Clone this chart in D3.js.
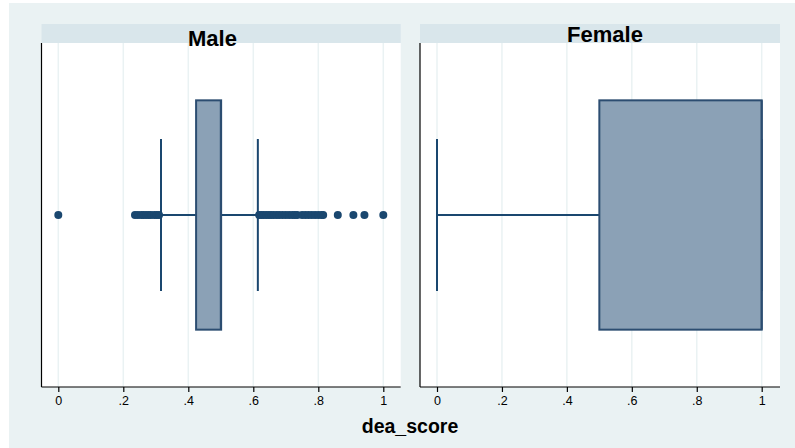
<!DOCTYPE html>
<html>
<head>
<meta charset="utf-8">
<script src="https://cdn.jsdelivr.net/npm/d3@7"></script>
<style>
  body { margin: 0; background: #fff; }
  text { font-family: "Liberation Sans", Arial, sans-serif; }
</style>
</head>
<body>
<div id="chart"></div>
<script>
// panel names
const groups = ['Male', 'Female'];
// box summaries: lower whisker, q1, median, q3, upper whisker
const boxMin = [0.316, 0.0];
const boxQ1  = [0.424, 0.5];
const boxMed = [0.5, 1.0];
const boxQ3  = [0.501, 1.0];
const boxMax = [0.614, 1.0];
// outside values (Male only)
const maleOutliers = [0, 0.236, 0.245, 0.255, 0.262, 0.27, 0.278, 0.285, 0.295, 0.303, 0.31,
  0.618, 0.625, 0.632, 0.64, 0.648, 0.655, 0.663, 0.672, 0.68, 0.69, 0.70, 0.71, 0.72,
  0.728, 0.735, 0.75, 0.76, 0.77, 0.78, 0.79, 0.80, 0.81, 0.815, 0.86, 0.908, 0.942, 1.0];
const femaleOutliers = [];
const tickVals = [0, 0.2, 0.4, 0.6, 0.8, 1];
const tickLabels = ['0', '.2', '.4', '.6', '.8', '1'];

const width = 795, height = 448;
const navy = '#1a476f';

const svg = d3.select('#chart').append('svg')
  .attr('width', width)
  .attr('height', height);

svg.append('rect')
  .attr('x', 9).attr('y', 3)
  .attr('width', width - 9).attr('height', height - 3)
  .attr('fill', '#eaf2f3');

// panel frames: [left, right]
const panels = [
  { x0: 41.5, x1: 400.7, titleX: 212.5, titleY: 46 },
  { x0: 420,  x1: 780,   titleX: 605,   titleY: 42 }
];
const plotTop = 43, plotBottom = 387, headTop = 24;
const yMid = (plotTop + plotBottom) / 2;
const boxH = (plotBottom - plotTop) * 2 / 3;
const capH = 152;

groups.forEach((g, i) => {
  const p = panels[i];
  const x = d3.scaleLinear().domain([0, 1])
    .range(i === 0 ? [58.3, 383.3] : [437, 761.7]);

  const gp = svg.append('g');

  gp.append('rect')
    .attr('x', p.x0).attr('y', headTop)
    .attr('width', p.x1 - p.x0).attr('height', plotTop - headTop)
    .attr('fill', '#d9e6eb');

  gp.append('rect')
    .attr('x', p.x0).attr('y', plotTop)
    .attr('width', p.x1 - p.x0).attr('height', plotBottom - plotTop)
    .attr('fill', '#fff');

  // grid
  gp.selectAll('.grid').data(tickVals).enter().append('line')
    .attr('x1', d => x(d)).attr('x2', d => x(d))
    .attr('y1', plotTop).attr('y2', plotBottom)
    .attr('stroke', '#eaf2f3').attr('stroke-width', 1.5);

  gp.append('text')
    .attr('x', p.titleX).attr('y', p.titleY)
    .attr('text-anchor', 'middle')
    .style('font-size', '22px').style('font-weight', 'bold')
    .text(g);

  // whiskers
  gp.append('line')
    .attr('x1', x(boxMin[i])).attr('x2', x(boxQ1[i]))
    .attr('y1', yMid).attr('y2', yMid)
    .attr('stroke', navy).attr('stroke-width', 2);
  gp.append('line')
    .attr('x1', x(boxQ3[i])).attr('x2', x(boxMax[i]))
    .attr('y1', yMid).attr('y2', yMid)
    .attr('stroke', navy).attr('stroke-width', 2);
  [boxMin[i], boxMax[i]].forEach(v => {
    gp.append('line')
      .attr('x1', x(v)).attr('x2', x(v))
      .attr('y1', yMid - capH / 2).attr('y2', yMid + capH / 2)
      .attr('stroke', navy).attr('stroke-width', 2);
  });

  // box
  gp.append('rect')
    .attr('x', x(boxQ1[i])).attr('y', yMid - boxH / 2)
    .attr('width', x(boxQ3[i]) - x(boxQ1[i])).attr('height', boxH)
    .attr('fill', '#8ba1b6').attr('stroke', '#2c4d71').attr('stroke-width', 2);
  gp.append('line')
    .attr('x1', x(boxMed[i])).attr('x2', x(boxMed[i]))
    .attr('y1', yMid - boxH / 2).attr('y2', yMid + boxH / 2)
    .attr('stroke', '#2c4d71').attr('stroke-width', 2);

  // outside values
  const outs = i === 0 ? maleOutliers : femaleOutliers;
  gp.selectAll('.pt').data(outs).enter().append('circle')
    .attr('cx', d => x(d)).attr('cy', yMid).attr('r', 4)
    .attr('fill', navy);

  // axes
  const axis = d3.axisBottom(x).tickValues(tickVals)
    .tickFormat((d, k) => tickLabels[k]).tickSize(5).tickPadding(4);
  const ax = gp.append('g').attr('transform', `translate(0,${plotBottom})`).call(axis);
  ax.select('.domain').attr('d', `M${p.x0},0H${p.x1}`).attr('stroke', '#000').attr('stroke-width', 1.2);
  ax.selectAll('.tick line').attr('stroke', '#000').attr('stroke-width', 1.2);
  ax.selectAll('.tick text')
    .style('font-size', '12.5px').style('font-family', '"Liberation Sans", Arial, sans-serif')
    .attr('fill', '#000');

  gp.append('line')
    .attr('x1', p.x0).attr('x2', p.x0)
    .attr('y1', plotTop).attr('y2', plotBottom)
    .attr('stroke', '#000').attr('stroke-width', 1.2);
});

svg.append('text')
  .attr('x', 410).attr('y', 433)
  .attr('text-anchor', 'middle')
  .style('font-size', '19.5px').style('font-weight', 'bold')
  .text('dea_score');
</script>
</body>
</html>
